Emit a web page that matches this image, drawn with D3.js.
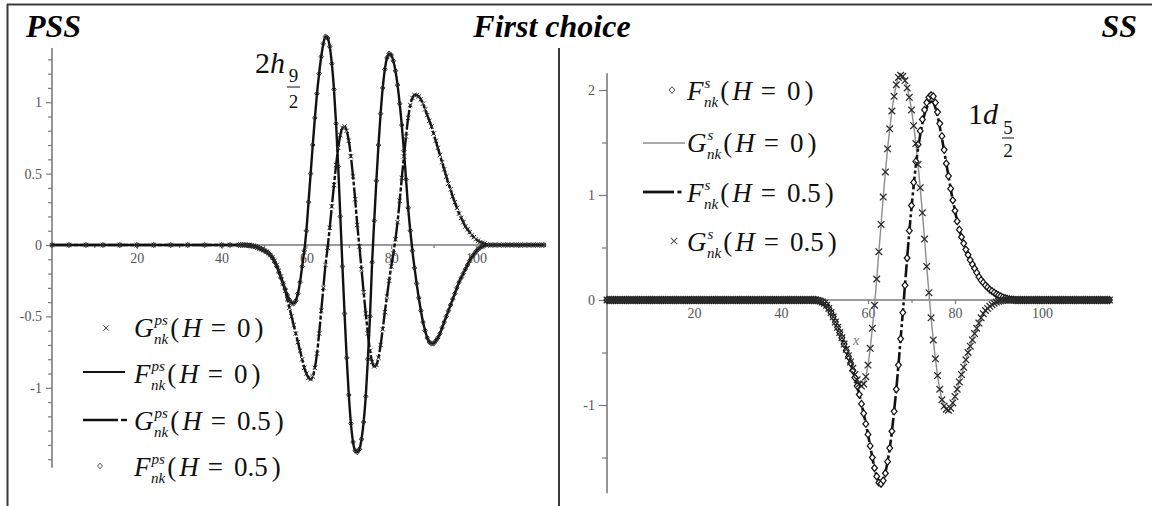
<!DOCTYPE html>
<html><head><meta charset="utf-8">
<script src="https://cdn.jsdelivr.net/npm/d3@7"></script>
<style>
 body{margin:0;background:#fff}
 svg{display:block}
</style>
</head><body>
<script>
// ---------------- DATA ----------------
// Left panel: PSS, 2h9/2.  x = r, tick labels
const pssXTicks = [20, 40, 60, 80, 100];
const pssXMinor = [10, 30, 50, 70, 90, 110];
const pssYTicks = [-1, -0.5, 0, 0.5, 1];
// sample positions of the curves (flat zero part, active part, flat tail)
const pssFlatLeft = [0, 4, 8, 12, 16, 20, 24, 28, 32, 36, 40, 42];
const pssActive = d3.range(44, 102.001, 0.5);          // 44 .. 102, step 0.5
const pssFlatRight = [103, 104, 105, 106, 107, 108, 109, 110, 111, 112, 113, 114, 115, 116];
// F^ps_nk (H = 0) : solid line ; (H = 0.5) diamonds — indistinguishable
const pssF_H0 = [
  0, 0, 0, 0, -0.002, -0.004, -0.006, -0.009, -0.013, -0.018,
  -0.024, -0.03, -0.037, -0.045, -0.055, -0.07, -0.09, -0.12, -0.15, -0.19,
  -0.23, -0.27, -0.31, -0.35, -0.385, -0.405, -0.41, -0.39, -0.34, -0.26,
  -0.15, -0.04, 0.1, 0.3, 0.5, 0.7, 0.89, 1.06, 1.2, 1.32,
  1.41, 1.46, 1.45, 1.39, 1.27, 1.09, 0.85, 0.55, 0.2, -0.15,
  -0.48, -0.79, -1.05, -1.25, -1.38, -1.44, -1.45, -1.43, -1.36, -1.24,
  -1.06, -0.8, -0.5, -0.12, 0.17, 0.45, 0.7, 0.92, 1.1, 1.23,
  1.31, 1.34, 1.33, 1.29, 1.22, 1.12, 0.99, 0.84, 0.66, 0.46,
  0.26, 0.1, -0.04, -0.16, -0.27, -0.37, -0.46, -0.54, -0.6, -0.65,
  -0.68, -0.69, -0.69, -0.67, -0.65, -0.62, -0.58, -0.54, -0.5, -0.46,
  -0.42, -0.38, -0.34, -0.3, -0.26, -0.23, -0.2, -0.17, -0.14, -0.11,
  -0.085, -0.065, -0.045, -0.03, -0.018, -0.01,
  -0.005
];
const pssF_H05 = pssF_H0.slice();
// G^ps_nk (H = 0) : crosses ; (H = 0.5) dash-dot line — indistinguishable
const pssG_H0 = [
  0, 0, 0, 0, 0, 0, -0.002, -0.005, -0.01, -0.016,
  -0.023, -0.03, -0.038, -0.047, -0.057, -0.07, -0.085, -0.11, -0.14, -0.18,
  -0.22, -0.27, -0.32, -0.38, -0.44, -0.5, -0.56, -0.62, -0.68, -0.74,
  -0.8, -0.86, -0.9, -0.93, -0.94, -0.92, -0.86, -0.76, -0.62, -0.46,
  -0.3, -0.14, -0.02, 0.12, 0.27, 0.42, 0.56, 0.68, 0.77, 0.82,
  0.83, 0.8, 0.73, 0.62, 0.48, 0.32, 0.14, -0.01, -0.17, -0.33,
  -0.48, -0.62, -0.74, -0.82, -0.85, -0.84, -0.79, -0.7, -0.59, -0.47,
  -0.36, -0.25, -0.15, -0.06, 0.04, 0.16, 0.31, 0.47, 0.62, 0.76,
  0.89, 0.98, 1.03, 1.05, 1.05, 1.04, 1.02, 0.99, 0.95, 0.91,
  0.87, 0.83, 0.78, 0.73, 0.68, 0.63, 0.58, 0.53, 0.48, 0.43,
  0.39, 0.34, 0.3, 0.26, 0.22, 0.19, 0.16, 0.13, 0.11, 0.09,
  0.07, 0.055, 0.04, 0.03, 0.02, 0.015,
  0.01
];
const pssG_H05 = pssG_H0.slice();

// Right panel: SS, 1d5/2
const ssXTicks = [20, 40, 60, 80, 100];
const ssXMinor = [10, 30, 50, 70, 90, 110];
const ssYTicks = [-1, 0, 1, 2];
const ssYMinor = [-1.5, -0.5, 0.5, 1.5];
const ssFlatLeft = d3.range(0, 47.9, 0.5);
const ssActive = d3.range(48, 94.001, 0.5);            // 48 .. 94, step 0.5
const ssFlatRight = d3.range(94.5, 115.6, 0.5);
// G^s_nk (H = 0) thin grey line ; (H = 0.5) crosses — indistinguishable
const ssG_H0 = [
  0, -0.004, -0.01, -0.018, -0.03, -0.05, -0.08, -0.12, -0.16, -0.21,
  -0.26, -0.31, -0.36, -0.42, -0.47, -0.53, -0.59, -0.65, -0.71, -0.76,
  -0.8, -0.82, -0.8, -0.73, -0.62, -0.46, -0.27, -0.05, 0.2, 0.46,
  0.72, 0.98, 1.22, 1.44, 1.63, 1.8, 1.94, 2.05, 2.12, 2.14,
  2.13, 2.09, 2.02, 1.93, 1.81, 1.66, 1.49, 1.29, 1.07, 0.83,
  0.58, 0.32, 0.07, -0.17, -0.38, -0.56, -0.72, -0.85, -0.95, -1.01,
  -1.04, -1.05, -1.03, -0.98, -0.92, -0.85, -0.78, -0.71, -0.64, -0.57,
  -0.5, -0.44, -0.38, -0.32, -0.27, -0.22, -0.17, -0.13, -0.1, -0.08,
  -0.06, -0.045, -0.03, -0.02, -0.013, -0.008, -0.005, -0.003, -0.001, 0,
  0, 0, 0
];
const ssG_H05 = ssG_H0.slice();
// F^s_nk (H = 0) diamonds
const ssF_H0 = [
  0, -0.004, -0.01, -0.018, -0.03, -0.05, -0.08, -0.12, -0.16, -0.21,
  -0.26, -0.31, -0.36, -0.42, -0.48, -0.54, -0.6, -0.67, -0.74, -0.82,
  -0.9, -0.99, -1.08, -1.18, -1.28, -1.39, -1.5, -1.6, -1.68, -1.74,
  -1.75, -1.72, -1.65, -1.54, -1.41, -1.25, -1.06, -0.85, -0.62, -0.37,
  -0.12, 0.14, 0.4, 0.66, 0.9, 1.12, 1.32, 1.48, 1.61, 1.72,
  1.81, 1.88, 1.93, 1.95, 1.94, 1.88, 1.79, 1.68, 1.56, 1.43,
  1.3, 1.18, 1.06, 0.95, 0.85, 0.75, 0.67, 0.6, 0.54, 0.48,
  0.43, 0.38, 0.34, 0.3, 0.26, 0.22, 0.19, 0.165, 0.14, 0.12,
  0.1, 0.085, 0.07, 0.055, 0.045, 0.035, 0.025, 0.018, 0.012, 0.007,
  0.004, 0.002, 0
];
// F^s_nk (H = 0.5) black dash-dot line
const ssF_H05 = [
  0, -0.004, -0.01, -0.018, -0.03, -0.05, -0.08, -0.12, -0.16, -0.21,
  -0.26, -0.31, -0.36, -0.42, -0.48, -0.54, -0.6, -0.67, -0.74, -0.82,
  -0.9, -0.99, -1.08, -1.18, -1.28, -1.39, -1.5, -1.6, -1.68, -1.73,
  -1.74, -1.71, -1.64, -1.54, -1.41, -1.25, -1.06, -0.85, -0.62, -0.37,
  -0.12, 0.14, 0.4, 0.65, 0.88, 1.09, 1.28, 1.44, 1.57, 1.68,
  1.77, 1.83, 1.87, 1.89, 1.88, 1.83, 1.75, 1.65, 1.54, 1.42,
  1.3, 1.18, 1.06, 0.95, 0.85, 0.75, 0.67, 0.6, 0.54, 0.48,
  0.43, 0.38, 0.34, 0.3, 0.26, 0.22, 0.19, 0.165, 0.14, 0.12,
  0.1, 0.085, 0.07, 0.055, 0.045, 0.035, 0.025, 0.018, 0.012, 0.007,
  0.004, 0.002, 0
];

// ---------------- DRAWING ----------------
const W = 1152, H = 506;
const SERIF = "'Liberation Serif','Times New Roman',serif";
const INK = "#111", AXC = "#7a7a7a", LBL = "#555";

const svg = d3.select("body").append("svg").attr("width", W).attr("height", H);
svg.append("rect").attr("width", W).attr("height", H).attr("fill", "#fff");

// frame
svg.append("line").attr("x1", 7).attr("x2", W).attr("y1", 4.5).attr("y2", 4.5).attr("stroke", "#3a3a3a").attr("stroke-width", 2);
svg.append("line").attr("x1", 7.5).attr("x2", 7.5).attr("y1", 4).attr("y2", H).attr("stroke", "#3a3a3a").attr("stroke-width", 2);
svg.append("line").attr("x1", 559).attr("x2", 559).attr("y1", 48).attr("y2", H).attr("stroke", "#3a3a3a").attr("stroke-width", 2);

function build(flatL, active, vals, flatR) {
  const pts = [];
  flatL.forEach(r => pts.push([r, 0]));
  active.forEach((r, i) => pts.push([r, vals[i] ?? 0]));
  flatR.forEach(r => pts.push([r, 0]));
  return pts;
}

function axes(g, x, y, o) {
  g.append("line").attr("x1", x(0)).attr("x2", x(o.xEnd)).attr("y1", y(0)).attr("y2", y(0))
    .attr("stroke", AXC).attr("stroke-width", 1.3);
  g.append("line").attr("x1", x(0)).attr("x2", x(0)).attr("y1", y(o.yTop)).attr("y2", y(o.yBot))
    .attr("stroke", AXC).attr("stroke-width", 1.6);
  const a = g.append("g");
  a.append("g").attr("transform", `translate(0,${y(0)})`)
    .call(d3.axisBottom(x).tickValues(o.xMinor).tickSize(3).tickFormat(""));
  a.append("g").attr("transform", `translate(0,${y(0)})`)
    .call(d3.axisBottom(x).tickValues(o.xTicks).tickSize(4).tickPadding(4).tickFormat(d => String(d)));
  a.append("g").attr("transform", `translate(${x(0)},0)`)
    .call(d3.axisLeft(y).tickValues(o.yMinor).tickSize(o.minorLen).tickFormat(""));
  a.append("g").attr("transform", `translate(${x(0)},0)`)
    .call(d3.axisLeft(y).tickValues(o.yTicks).tickSize(o.majorLen).tickPadding(4).tickFormat(d => String(d)));
  a.selectAll(".domain").remove();
  a.selectAll("g").attr("font-family", SERIF);
  a.selectAll(".tick line").attr("stroke", AXC).attr("stroke-width", 1.2);
  a.selectAll(".tick text").attr("fill", LBL).attr("font-family", SERIF).attr("font-size", 14);
}

const crossPath = s => `M${-s},${-s}L${s},${s}M${-s},${s}L${s},${-s}`;
const diamPath = s => `M0,${-s * 1.2}L${s},0L0,${s * 1.2}L${-s},0Z`;

function markers(g, pts, x, y, path, stroke, sw, fill) {
  g.append("g").selectAll("path").data(pts).join("path")
    .attr("transform", d => `translate(${x(d[0])},${y(d[1])})`)
    .attr("d", path).attr("stroke", stroke).attr("stroke-width", sw)
    .attr("fill", d => (typeof fill === "function" ? fill(d) : fill));
}

function mathRow(g, x0, yb, letter, sup, sub, val) {
  const t = g.append("text").attr("x", x0).attr("y", yb).attr("font-family", SERIF)
    .attr("font-size", 27).attr("font-style", "italic").attr("fill", INK).text(letter);
  const w = t.node().getComputedTextLength();
  const ts = g.append("text").attr("x", x0 + w + 1).attr("y", yb - 12).attr("font-family", SERIF)
    .attr("font-size", 15).attr("font-style", "italic").attr("fill", INK).text(sup);
  const tb = g.append("text").attr("x", x0 + w + 0.5).attr("y", yb + 7).attr("font-family", SERIF)
    .attr("font-size", 15).attr("font-style", "italic").attr("fill", INK).text(sub);
  const e = Math.max(x0 + w + 1 + ts.node().getComputedTextLength(), x0 + w + 0.5 + tb.node().getComputedTextLength());
  const r = g.append("text").attr("x", e + 2).attr("y", yb).attr("font-family", SERIF)
    .attr("font-size", 27).attr("fill", INK);
  r.append("tspan").text("(");
  r.append("tspan").attr("dx", 3).attr("font-style", "italic").text("H");
  r.append("tspan").attr("dx", 9).text("=");
  r.append("tspan").attr("dx", 11).text(val);
  r.append("tspan").attr("dx", 4).text(")");
}

// ---------- LEFT PANEL (PSS) ----------
{
  const x = d3.scaleLinear().domain([0, 100]).range([52, 476]);
  const y = d3.scaleLinear().domain([0, 1]).range([245, 102.2]);
  const g = svg.append("g");
  axes(g, x, y, {
    xEnd: 116.3, yTop: 1.38, yBot: -1.56,
    xTicks: pssXTicks, xMinor: pssXMinor, yTicks: pssYTicks,
    yMinor: d3.range(-15, 14).map(v => v / 10).filter(v => !pssYTicks.includes(v)),
    majorLen: 6, minorLen: 4
  });
  const F0 = build(pssFlatLeft, pssActive, pssF_H0, pssFlatRight);
  const F5 = build(pssFlatLeft, pssActive, pssF_H05, pssFlatRight);
  const G0 = build(pssFlatLeft, pssActive, pssG_H0, pssFlatRight);
  const G5 = build(pssFlatLeft, pssActive, pssG_H05, pssFlatRight);
  const line = d3.line().x(d => x(d[0])).y(d => y(d[1])).curve(d3.curveMonotoneX);
  g.append("path").attr("d", line(G5)).attr("fill", "none").attr("stroke", INK).attr("stroke-width", 2.4).attr("stroke-dasharray", "20,2,4,2");
  g.append("path").attr("d", line(F0)).attr("fill", "none").attr("stroke", INK).attr("stroke-width", 2.4);
  markers(g, G0, x, y, crossPath(2.2), "#2a2a2a", 1, "none");
  markers(g, F5, x, y, diamPath(2.2), "#2a2a2a", 1, "none");

  // legend
  const lg = svg.append("g");
  lg.append("path").attr("transform", "translate(106,328)").attr("d", crossPath(2.6)).attr("stroke", "#444").attr("stroke-width", 1).attr("fill", "none");
  mathRow(lg, 134, 337, "G", "ps", "nk", "0");
  lg.append("line").attr("x1", 83).attr("x2", 125).attr("y1", 372).attr("y2", 372).attr("stroke", INK).attr("stroke-width", 2.2);
  mathRow(lg, 134, 383, "F", "ps", "nk", "0");
  lg.append("line").attr("x1", 83).attr("x2", 118).attr("y1", 420).attr("y2", 420).attr("stroke", INK).attr("stroke-width", 2.4);
  lg.append("line").attr("x1", 121).attr("x2", 127).attr("y1", 420).attr("y2", 420).attr("stroke", INK).attr("stroke-width", 2.4);
  mathRow(lg, 134, 430, "G", "ps", "nk", "0.5");
  lg.append("path").attr("transform", "translate(100,466)").attr("d", diamPath(2.4)).attr("stroke", "#555").attr("stroke-width", 1).attr("fill", "none");
  mathRow(lg, 134, 476, "F", "ps", "nk", "0.5");

  // state label 2h_{9/2}
  const a = svg.append("text").attr("x", 255).attr("y", 73).attr("font-family", SERIF).attr("font-size", 30).attr("fill", INK);
  a.append("tspan").text("2");
  a.append("tspan").attr("font-style", "italic").text("h");
  svg.append("text").attr("x", 293.5).attr("y", 82).attr("text-anchor", "middle").attr("font-family", SERIF).attr("font-size", 19).attr("fill", INK).text("9");
  svg.append("line").attr("x1", 287).attr("x2", 300).attr("y1", 87).attr("y2", 87).attr("stroke", INK).attr("stroke-width", 1);
  svg.append("text").attr("x", 293.5).attr("y", 108).attr("text-anchor", "middle").attr("font-family", SERIF).attr("font-size", 19).attr("fill", INK).text("2");
}

// ---------- RIGHT PANEL (SS) ----------
{
  const x = d3.scaleLinear().domain([0, 100]).range([607, 1042]);
  const y = d3.scaleLinear().domain([0, 1]).range([300, 195]);
  const g = svg.append("g");
  axes(g, x, y, {
    xEnd: 115.5, yTop: 2.16, yBot: -1.84,
    xTicks: ssXTicks, xMinor: ssXMinor, yTicks: ssYTicks, yMinor: ssYMinor,
    majorLen: 8, minorLen: 5
  });
  const F0 = build(ssFlatLeft, ssActive, ssF_H0, ssFlatRight);
  const F5 = build(ssFlatLeft, ssActive, ssF_H05, ssFlatRight);
  const G0 = build(ssFlatLeft, ssActive, ssG_H0, ssFlatRight);
  const G5 = build(ssFlatLeft, ssActive, ssG_H05, ssFlatRight);
  const line = d3.line().x(d => x(d[0])).y(d => y(d[1])).curve(d3.curveMonotoneX);
  g.append("path").attr("d", line(G0)).attr("fill", "none").attr("stroke", "#8c8c8c").attr("stroke-width", 1.4);
  g.append("path").attr("d", line(F5)).attr("fill", "none").attr("stroke", INK).attr("stroke-width", 2.6).attr("stroke-dasharray", "13,3,3,3");
  markers(g, F0, x, y, diamPath(2.9), "#111", 1.2, d => (d[1] === 0 ? "none" : "#fff"));
  markers(g, G5, x, y, crossPath(3.3), d3.color("#2a2a2a"), 1.25, "none");

  // stray axis label
  svg.append("text").attr("x", 856).attr("y", 345).attr("text-anchor", "middle").attr("font-family", SERIF).attr("font-size", 14).attr("font-style", "italic").attr("fill", "#777").text("x");

  // legend
  const lg = svg.append("g");
  lg.append("path").attr("transform", "translate(672,90)").attr("d", diamPath(2.8)).attr("stroke", "#444").attr("stroke-width", 1).attr("fill", "#fff");
  mathRow(lg, 687, 100, "F", "s", "nk", "0");
  lg.append("line").attr("x1", 643).attr("x2", 685).attr("y1", 143).attr("y2", 143).attr("stroke", "#8c8c8c").attr("stroke-width", 1.5);
  mathRow(lg, 687, 152, "G", "s", "nk", "0");
  lg.append("line").attr("x1", 643).attr("x2", 674).attr("y1", 192).attr("y2", 192).attr("stroke", INK).attr("stroke-width", 2.8);
  lg.append("line").attr("x1", 677.5).attr("x2", 681.5).attr("y1", 192).attr("y2", 192).attr("stroke", INK).attr("stroke-width", 2.8);
  mathRow(lg, 687, 202, "F", "s", "nk", "0.5");
  lg.append("path").attr("transform", "translate(674,241)").attr("d", crossPath(3.2)).attr("stroke", "#555").attr("stroke-width", 1.1).attr("fill", "none");
  mathRow(lg, 687, 251, "G", "s", "nk", "0.5");

  // state label 1d_{5/2}
  const a = svg.append("text").attr("x", 968).attr("y", 124).attr("font-family", SERIF).attr("font-size", 30).attr("fill", INK);
  a.append("tspan").text("1");
  a.append("tspan").attr("font-style", "italic").text("d");
  svg.append("text").attr("x", 1008).attr("y", 134).attr("text-anchor", "middle").attr("font-family", SERIF).attr("font-size", 19).attr("fill", INK).text("5");
  svg.append("line").attr("x1", 1002).attr("x2", 1014).attr("y1", 138).attr("y2", 138).attr("stroke", INK).attr("stroke-width", 1);
  svg.append("text").attr("x", 1008).attr("y", 157).attr("text-anchor", "middle").attr("font-family", SERIF).attr("font-size", 19).attr("fill", INK).text("2");
}

// titles
const tt = (x, y, anchor, s) => svg.append("text").attr("x", x).attr("y", y).attr("text-anchor", anchor)
  .attr("font-family", SERIF).attr("font-size", 32).attr("font-weight", "bold").attr("font-style", "italic")
  .attr("fill", "#000").text(s);
tt(26, 37, "start", "PSS");
tt(552, 37, "middle", "First choice");
tt(1137, 37, "end", "SS");
</script>
</body></html>
